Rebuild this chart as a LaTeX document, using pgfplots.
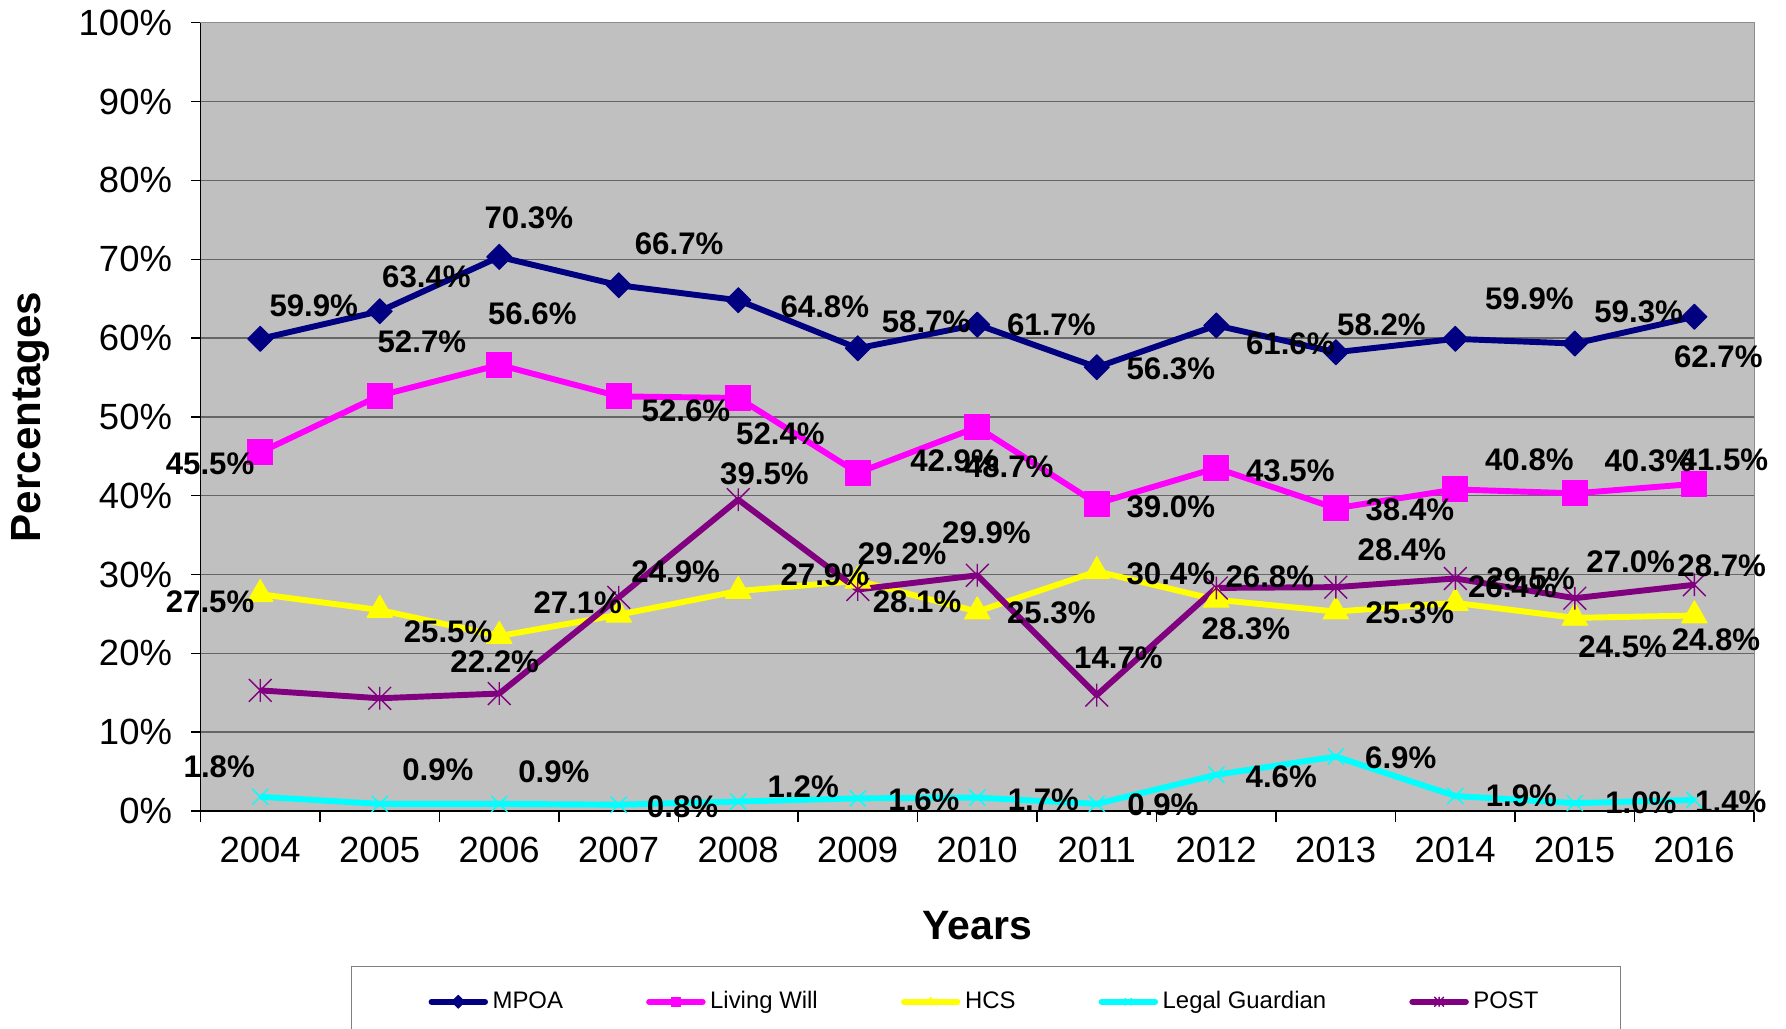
\documentclass[border=0pt]{standalone}
\usepackage{fontspec}
\setmainfont{Liberation Sans}
\usepackage{pgfplots}
\usepackage{pgfplotstable}
\pgfplotsset{compat=1.18}

\definecolor{mpoa}{RGB}{0,0,128}
\definecolor{lwill}{RGB}{255,0,255}
\definecolor{hcs}{RGB}{255,255,0}
\definecolor{legal}{RGB}{0,255,255}
\definecolor{post}{RGB}{128,0,128}
\definecolor{plotbg}{RGB}{192,192,192}

% x with a vertical bar, as the POST marker
\pgfdeclareplotmark{xbar}{%
  \pgfpathmoveto{\pgfqpoint{-\pgfplotmarksize}{-\pgfplotmarksize}}%
  \pgfpathlineto{\pgfqpoint{\pgfplotmarksize}{\pgfplotmarksize}}%
  \pgfpathmoveto{\pgfqpoint{-\pgfplotmarksize}{\pgfplotmarksize}}%
  \pgfpathlineto{\pgfqpoint{\pgfplotmarksize}{-\pgfplotmarksize}}%
  \pgfpathmoveto{\pgfqpoint{0pt}{-\pgfplotmarksize}}%
  \pgfpathlineto{\pgfqpoint{0pt}{\pgfplotmarksize}}%
  \pgfusepathqstroke}

% x y, label offset dx (right) and up, in px of the reference
\pgfplotstableread{
x y dx up
2004 59.9 47 29
2005 63.4 41 30
2006 70.3 26 34
2007 66.7 53 36
2008 64.8 76 -6
2009 58.7 60 23
2010 61.7 65 0
2011 56.3 65 -1
2012 61.6 65 -16
2013 58.2 40 24
2014 59.9 65 35
2015 59.3 56 28
2016 62.7 21 -35
}\tabMPOA
\pgfplotstableread{
x y dx up
2004 45.5 -44 -10
2005 52.7 37 47
2006 56.6 29 45
2007 52.6 59 -13
2008 52.4 37 -31
2009 42.9 85 11
2010 48.7 28 -35
2011 39.0 65 -3
2012 43.5 65 -2
2013 38.4 65 -1
2014 40.8 65 26
2015 40.3 65 29
2016 41.5 26 21
}\tabLW
\pgfplotstableread{
x y dx up
2004 27.5 -44 -7
2005 25.5 60 -19
2006 22.2 -4 -23
2007 24.9 50 38
2008 27.9 76 14
2009 29.2 39 24
2010 25.3 65 -1
2011 30.4 65 -2
2012 26.8 47 20
2013 25.3 65 -1
2014 26.4 50 14
2015 24.5 42 -25
2016 24.8 19 -21
}\tabHCS
\pgfplotstableread{
x y dx up
2004 1.8 -36 26
2005 0.9 51 30
2006 0.9 48 28
2007 0.8 56 -2
2008 1.2 57 13
2009 1.6 58 -1
2010 1.7 58 -2
2011 0.9 58 -1
2012 4.6 57 -2
2013 6.9 57 -1
2014 1.9 58 0
2015 1.0 58 0
2016 1.4 32 -2
}\tabLG
\pgfplotstableread{
x y dx up
2004 15.3 0 0
2005 14.3 0 0
2006 14.9 0 0
2007 27.1 -36 -5
2008 39.5 23 23
2009 28.1 52 -11
2010 29.9 8 37
2011 14.7 19 33
2012 28.3 26 -36
2013 28.4 58 33
2014 29.5 66 0
2015 27.0 49 32
2016 28.7 24 17
}\tabPOST

\pgfplotsset{
  lbl/.style={draw=none, mark=none, forget plot,
    point meta=\thisrow{y},
    visualization depends on={\thisrow{dx}\as\labdx},
    visualization depends on={\thisrow{up}\as\labup},
    nodes near coords={\pgfmathprintnumber[fixed,fixed zerofill,precision=1]{\pgfplotspointmeta}\%},
    every node near coord/.append style={anchor=center, inner sep=0pt,
      xshift=\labdx*0.5pt, yshift=\labup*0.5pt,
      font=\fontsize{13.7}{16}\selectfont\bfseries, text=black}},
  ser/.style={line width=2.6pt, line join=round},
}

\begin{document}
\begin{tikzpicture}
\begin{axis}[
  name=ax,
  scale only axis, width=682pt, height=346pt,
  xmin=2003.5, xmax=2016.5, ymin=0, ymax=100,
  clip=false,
  axis background/.style={fill=plotbg},
  axis line style={draw=black!45},
  xtick={2004,...,2016},
  minor xtick={2003.5,2004.5,...,2016.5},
  major x tick style={draw=none},
  minor x tick style={black, line width=0.6pt},
  ytick={0,10,...,100},
  y tick style={black, line width=0.6pt},
  tick align=outside, xtick pos=bottom, ytick pos=left,
  minor tick length=5pt, major tick length=4pt,
  ymajorgrids, grid style={black!60, line width=0.6pt},
  /pgf/number format/assume math mode=true,
  /pgf/number format/1000 sep={},
  yticklabel={\pgfmathprintnumber{\tick}\%},
  tick label style={font=\fontsize{16}{19}\selectfont, text=black},
  xticklabel style={yshift=-4pt},
  yticklabel style={xshift=-5pt},
  xlabel={Years},
  xlabel style={font=\fontsize{18}{21}\selectfont\bfseries, at={(axis description cs:0.5,-0.146)}, anchor=center},
  ylabel={Percentages},
  ylabel style={font=\fontsize{18.5}{21}\selectfont\bfseries, at={(axis description cs:-0.1092,0.5)}, anchor=center},
  legend columns=5,
  legend cell align=left,
  legend style={at={(axis description cs:0.5055,-0.1965)}, anchor=north,
    draw=black!50, fill=white, font=\fontsize{10.5}{12}\selectfont,
    inner xsep=34pt, inner ysep=9pt,
    /tikz/every even column/.append style={column sep=34.5pt}},
  legend image code/.code={\draw[#1, mark size=2pt, mark repeat=2, mark phase=2, line cap=round]
    plot coordinates {(0pt,0pt) (11.75pt,0pt) (23.5pt,0pt)};},
]
\addplot[ser, mpoa, mark=square*, mark size=3.9pt, mark options={rotate=45, line width=0.4pt}] table[x=x,y=y]{\tabMPOA};
\addplot[ser, lwill, mark=square*, mark size=5.5pt, mark options={line width=0.4pt}] table[x=x,y=y]{\tabLW};
\addplot[ser, hcs, mark=triangle*, mark size=6.5pt, mark options={line width=0.4pt}] table[x=x,y=y]{\tabHCS};
\addplot[ser, legal, mark=x, mark size=5pt, mark options={line width=0.6pt}] table[x=x,y=y]{\tabLG};
\addplot[ser, post, mark=xbar, mark size=5pt, mark options={line width=0.6pt}] table[x=x,y=y]{\tabPOST};
\legend{MPOA, Living Will, HCS, Legal Guardian, POST}

\addplot[lbl] table[x=x,y=y]{\tabMPOA};
\addplot[lbl] table[x=x,y=y]{\tabLW};
\addplot[lbl] table[x=x,y=y]{\tabHCS};
\addplot[lbl] table[x=x,y=y]{\tabLG};
\addplot[lbl, skip coords between index={0}{3}] table[x=x,y=y]{\tabPOST};

\draw[black, line width=0.8pt] (rel axis cs:0,1) -- (rel axis cs:0,0) -- (rel axis cs:1,0);
\end{axis}
\pgfresetboundingbox
\useasboundingbox ([shift={(-88pt,-95.5pt)}]ax.south west) rectangle ([shift={(14pt,10pt)}]ax.north east);
\end{tikzpicture}
\end{document}
